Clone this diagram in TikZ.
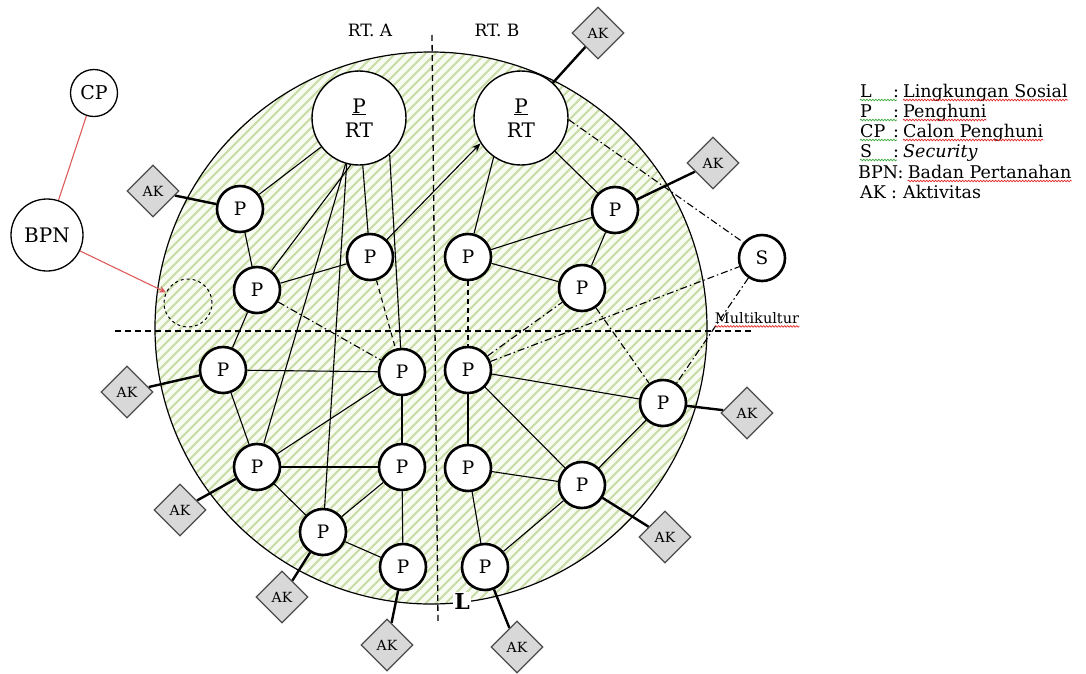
\documentclass[tikz,border=0pt]{standalone}
\usepackage{fontspec}
\setmainfont{DejaVu Serif}
\usetikzlibrary{arrows.meta,shapes.geometric,decorations.pathmorphing}
\definecolor{hatch}{RGB}{200,220,165}
\definecolor{hatchbg}{RGB}{248,251,242}
\definecolor{akfill}{RGB}{216,216,216}
\definecolor{bpnred}{RGB}{222,90,90}
\definecolor{spellred}{RGB}{225,40,40}
\definecolor{spellgreen}{RGB}{60,170,60}
\newcommand{\myfs}[1]{\fontsize{#1}{#1}\selectfont}
\pgfdeclarelayer{bgzero}
\pgfdeclarelayer{bgone}
\pgfsetlayers{bgzero,bgone,main}
\begin{document}
\begin{tikzpicture}[x=1pt,y=-1pt,
 pnode/.style={circle,draw,line width=2.6pt,fill=white,minimum size=46pt,inner sep=0pt,font=\myfs{18.5}},
 bignode/.style={circle,draw,line width=1.4pt,fill=white,minimum size=94pt,inner sep=0pt,align=center,font=\fontsize{20}{24}\selectfont},
 thinnode/.style={circle,draw,line width=1.3pt,fill=white,inner sep=0pt},
 aknode/.style={diamond,draw=black!70,line width=1.3pt,fill=akfill,minimum width=52pt,minimum height=52pt,inner sep=0pt,font=\myfs{14}},
 edge/.style={line width=1.1pt},
 akedge/.style={line width=2.4pt},
 dashedge/.style={line width=1.1pt,dash pattern=on 5pt off 4pt},
 ddedge/.style={line width=1.1pt,dash pattern=on 7pt off 3pt on 1.5pt off 3pt},
 divider/.style={line width=1.3pt,dash pattern=on 6pt off 4pt},
 legend/.style={inner sep=0pt,anchor=base west,font=\myfs{17.5}},
 redwave/.style={spellred,line width=0.7pt,decorate,decoration={snake,amplitude=0.8pt,segment length=3pt}},
 greenwave/.style={spellgreen,line width=0.7pt,decorate,decoration={snake,amplitude=0.8pt,segment length=3pt}},
]
\useasboundingbox (0,0) rectangle (1086,673);

% hatched social environment
\begin{pgfonlayer}{bgzero}
\begin{scope}
\clip (431,328) circle (276pt);
\fill[hatchbg] (431,328) circle (276pt);
\foreach \i in {-400,-390,...,400} \draw[hatch,line width=2pt] ({431+\i-300},628) -- ({431+\i+300},28);
\end{scope}
\draw[line width=1.2pt] (431,328) circle (276pt);
\coordinate (vt) at (432,35);
\coordinate (vb) at (438,622);
\coordinate (hl) at (115,331);
\coordinate (hr) at (752,331);
\draw[divider] (vt) -- (vb);
\draw[divider] (hl) -- (hr);
\end{pgfonlayer}

% labels
\node[font=\myfs{17}] (rta) at (370,30) {RT. A};
\node[font=\myfs{17}] (rtb) at (497,30) {RT. B};

% outside nodes
\node[thinnode,minimum size=47pt,font=\myfs{19}] (CP) at (94,93) {CP};
\node[thinnode,minimum size=72pt,font=\myfs{20}] (BPN) at (47,235) {BPN};
\node[circle,draw,dashed,line width=1pt,minimum size=48pt,inner sep=0pt] (newp) at (188,303) {};

% RT heads
\node[bignode] (PA) at (359,118) {\underline{P}\\RT};
\node[bignode] (PB) at (521,118) {\underline{P}\\RT};

% RT A residents
\node[pnode] (P1) at (240,209) {P};
\node[pnode] (P2) at (257,290) {P};
\node[pnode] (P3) at (370,257) {P};
\node[pnode] (P4) at (223,370) {P};
\node[pnode] (P5) at (402,372) {P};
\node[pnode] (P6) at (257,467) {P};
\node[pnode] (P7) at (402,467) {P};
\node[pnode] (P8) at (323,532) {P};
\node[pnode] (P9) at (403,567) {P};

% RT B residents
\node[pnode] (Q1) at (615,210) {P};
\node[pnode] (Q2) at (468,257) {P};
\node[pnode] (Q3) at (582,288) {P};
\node[pnode] (Q4) at (468,370) {P};
\node[pnode] (Q5) at (663,403) {P};
\node[pnode] (Q6) at (468,468) {P};
\node[pnode] (Q7) at (582,485) {P};
\node[pnode] (Q8) at (485,567) {P};
\node[pnode] (S) at (762,258) {S};

% activities
\node[aknode] (AKa) at (153,191) {AK};
\node[aknode] (AKb) at (598,33) {AK};
\node[aknode] (AKc) at (713,163) {AK};
\node[aknode] (AKd) at (747,413) {AK};
\node[aknode] (AKe) at (665,537) {AK};
\node[aknode] (AKf) at (517,647) {AK};
\node[aknode] (AKg) at (127,392) {AK};
\node[aknode] (AKh) at (180,510) {AK};
\node[aknode] (AKi) at (282,597) {AK};
\node[aknode] (AKj) at (387,645) {AK};

\node[font=\bfseries\myfs{22},fill=white,inner sep=1pt] (L) at (462,601) {L};
\node[font=\myfs{14.5},inner sep=0pt] (multi) at (757,318) {Multikultur};
\draw[redwave] ([yshift=-3pt]multi.base west) -- ([yshift=-3pt]multi.base east);

% connectors
\begin{pgfonlayer}{bgone}
\draw[bpnred,line width=1.1pt] (CP) -- (BPN);
\draw[bpnred,line width=1.1pt,-{Stealth[length=7pt,width=7pt]}] (BPN) -- (newp);

\draw[akedge] (P1) -- (AKa);
\draw[akedge] (P4) -- (AKg);
\draw[akedge] (P6) -- (AKh);
\draw[akedge] (P8) -- (AKi);
\draw[akedge] (P9) -- (AKj);
\draw[akedge] (PB) -- (AKb);
\draw[akedge] (Q1) -- (AKc);
\draw[akedge] (Q5) -- (AKd);
\draw[akedge] (Q7) -- (AKe);
\draw[akedge] (Q8) -- (AKf);

\draw[edge] (P1) -- (PA);
\draw[edge] (P1) -- (P2);
\draw[edge] (P2) -- (PA.260);
\draw[edge] (P2) -- (P3);
\draw[edge] (P3) -- (PA);
\draw[edge,-{Stealth[length=9pt,width=7pt]}] (P3) -- (PB.212);
\draw[dashedge] (P3) -- (P5);
\draw[ddedge] (P2) -- (P5);
\draw[edge] (P2) -- (P4);
\draw[edge] (PA.310) -- (P5);
\draw[edge] (PA) -- (P6);
\draw[edge] (PA.255) -- (P8);
\draw[edge] (P4) -- (P5);
\draw[edge] (P4) -- (P6);
\draw[edge] (P5) -- (P6);
\draw[edge] (P5) -- (P7);
\draw[edge] (P6) -- (P7);
\draw[edge] (P6) -- (P8);
\draw[edge] (P7) -- (P8);
\draw[edge] (P7) -- (P9);
\draw[edge] (P8) -- (P9);

\draw[edge] (PB.235) -- (Q2);
\draw[edge] (PB) -- (Q1);
\draw[ddedge] (PB.-2) -- (S.140);
\draw[edge] (Q1) -- (Q2);
\draw[edge] (Q1) -- (Q3);
\draw[edge] (Q2) -- (Q3);
\draw[dashedge] (Q2) -- (Q4);
\draw[ddedge] (Q4) -- (Q3);
\draw[ddedge] (Q3) -- (Q5);
\draw[ddedge] (Q4) -- (S);
\draw[ddedge] (S) -- (Q5);
\draw[edge] (Q4) -- (Q5);
\draw[edge] (Q4) -- (Q6);
\draw[edge] (Q4) -- (Q7);
\draw[edge] (Q6) -- (Q7);
\draw[edge] (Q6) -- (Q8);
\draw[edge] (Q7) -- (Q8);
\draw[edge] (Q7) -- (Q5);
\end{pgfonlayer}

% legend
\node[legend] (l1a) at (860,97) {L};
\node[legend] (l1b) at (893,97) {:};
\node[legend] (l1c) at (903,97) {Lingkungan Sosial};
\node[legend] (l2a) at (860,117) {P};
\node[legend] (l2b) at (893,117) {:};
\node[legend] (l2c) at (903,117) {Penghuni};
\node[legend] (l3a) at (860,137) {CP};
\node[legend] (l3b) at (893,137) {:};
\node[legend] (l3c) at (903,137) {Calon Penghuni};
\node[legend] (l4a) at (860,157) {S};
\node[legend] (l4b) at (893,157) {:};
\node[legend] (l4c) at (903,157) {\itshape Security};
\node[legend] (l5a) at (858,178) {BPN:};
\node[legend,anchor=base west] (l5c) at ([xshift=4pt]l5a.base east) {Badan Pertanahan};
\node[legend] (l6a) at (860,198) {AK};
\node[legend] (l6b) at (891,198) {:};
\node[legend] (l6c) at (903,198) {Aktivitas};
\foreach \n in {l1c,l2c,l3c,l5c}
  \draw[redwave] ([yshift=-3pt]\n.base west) -- ([yshift=-3pt]\n.base east);
\foreach \n in {l1,l2,l3,l4}
  \draw[greenwave] ([yshift=-3pt]\n a.base west) -- ([yshift=-3pt,xshift=4pt]\n b.base west);
\end{tikzpicture}
\end{document}
